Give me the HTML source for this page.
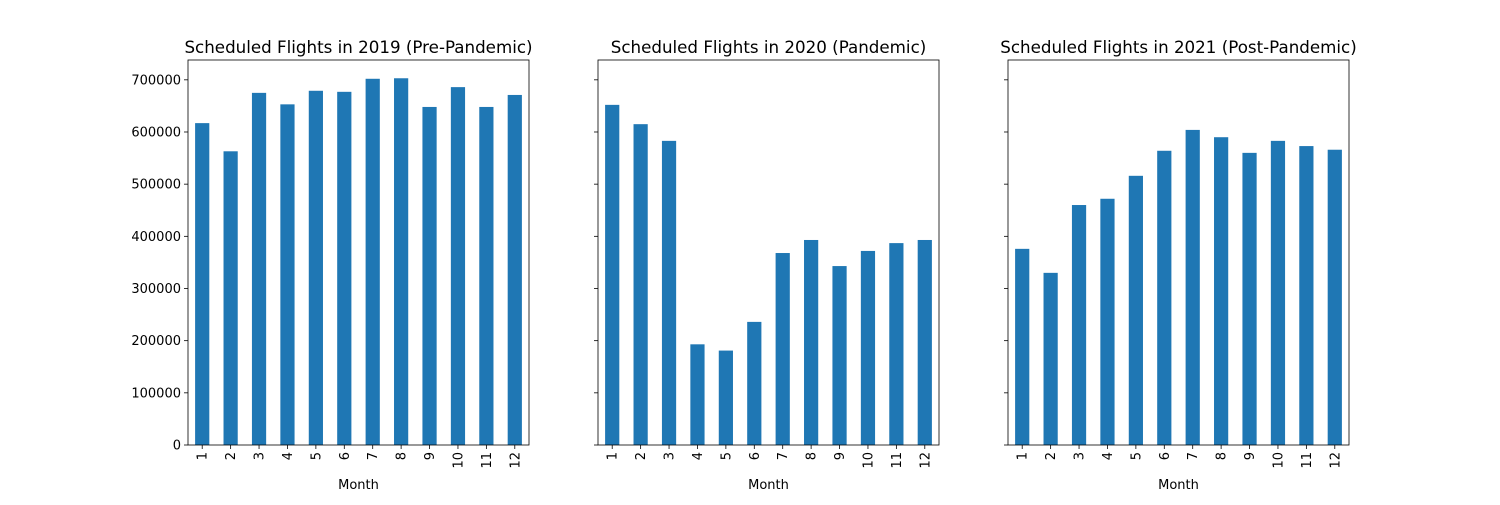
<!DOCTYPE html>
<html><head><meta charset="utf-8"><style>
body{margin:0;background:#fff;}
svg text{font-family:"DejaVu Sans","Liberation Sans",sans-serif;}
</style></head><body>
<svg id="c" width="1500" height="500"></svg>
<script>
const months=[1,2,3,4,5,6,7,8,9,10,11,12];
const titles=["Scheduled Flights in 2019 (Pre-Pandemic)","Scheduled Flights in 2020 (Pandemic)","Scheduled Flights in 2021 (Post-Pandemic)"];
const flights2019=[617000,563000,675000,653000,679000,677000,702000,703000,648000,686000,648000,671000];
const flights2020=[652000,615000,583000,193000,181000,236000,368000,393000,343000,372000,387000,393000];
const flights2021=[376000,330000,460000,472000,516000,564000,604000,590000,560000,583000,573000,566000];
const yTicks=[0,100000,200000,300000,400000,500000,600000,700000];
const series=[flights2019,flights2020,flights2021];
const NS="http://www.w3.org/2000/svg";
const svg=document.getElementById('c');
const left=[188,598,1008],W=341,top0=60,bot=445,yMax=738000;
const y=v=>bot-(v/yMax)*(bot-top0);
function mk(t,a,p){const e=document.createElementNS(NS,t);for(const k in a)e.setAttribute(k,a[k]);(p||svg).appendChild(e);return e;}
series.forEach((data,pi)=>{
  const g=mk('g',{});
  
  
  const L=left[pi],step=W/months.length;
  const x=i=>L+step*(i+0.5);
  data.forEach((v,i)=>{
    const r=mk('rect',{x:x(i)-step/4,y:y(v),width:step/2,height:bot-y(v),fill:'#1f77b4'},g);
    
    
    mk('line',{x1:x(i),x2:x(i),y1:bot,y2:bot+4,stroke:'#000','stroke-width':0.8},g);
    const t=mk('text',{x:0,y:0,'font-size':13,'text-anchor':'end',transform:`translate(${x(i)+4.5},${bot+7}) rotate(-90)`},g);
    t.textContent=months[i];
    
    
  });
  yTicks.forEach(v=>{
    mk('line',{x1:L-4,x2:L,y1:y(v),y2:y(v),stroke:'#000','stroke-width':0.8},g);
    if(pi===0){const t=mk('text',{x:L-7,y:y(v)+4.5,'font-size':13,'text-anchor':'end'},g);t.textContent=v;
      
      }
  });
  const fr=mk('rect',{x:L,y:top0,width:W,height:bot-top0,fill:'none',stroke:'#000','stroke-width':0.8},g);
  
  
  const tt=mk('text',{x:L+W/2,y:top0-7,'font-size':16.7,'text-anchor':'middle'},g);tt.textContent=titles[pi];
  
  
  const xl=mk('text',{x:L+W/2,y:489,'font-size':13,'text-anchor':'middle'},g);xl.textContent='Month';
  
  
});
</script>
</body></html>
